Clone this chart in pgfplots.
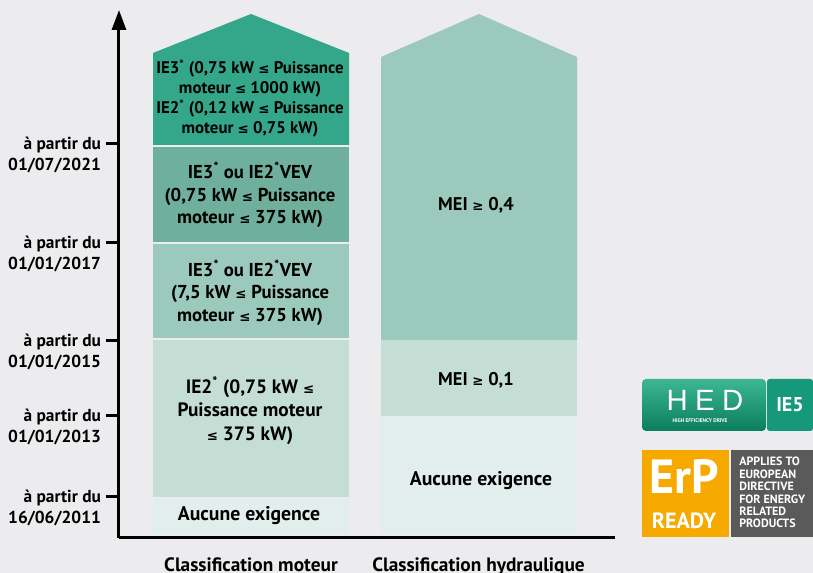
\documentclass[border=0pt]{standalone}
\usepackage{pgfplots}
\pgfplotsset{compat=1.18}
\usetikzlibrary{arrows.meta}
\usepackage{fontspec}
\setmainfont{PT Sans}
\newfontfamily\sym{DejaVu Sans}
\newfontfamily\thinf{Liberation Sans}
\newcommand\LE{\mbox{\sym\bfseries\fontsize{10pt}{10pt}\selectfont ≤}}
\newcommand\GE{\mbox{\sym\bfseries\fontsize{10pt}{10pt}\selectfont ≥}}
\newcommand\st{\textsuperscript{*}}
\definecolor{bg}{HTML}{ECECEE}
\definecolor{c1}{HTML}{34A689}
\definecolor{c2}{HTML}{6FB09D}
\definecolor{c3}{HTML}{9BC9BB}
\definecolor{c4}{HTML}{C4DED5}
\definecolor{c5}{HTML}{E2EEEC}
\definecolor{hedtop}{HTML}{3DB793}
\definecolor{hedbot}{HTML}{0A7D5E}
\definecolor{ie5}{HTML}{16987A}
\definecolor{erp}{HTML}{F6AA00}
\definecolor{erpgray}{HTML}{5A5A5A}
\begin{document}
\begin{tikzpicture}[font=\bfseries\fontsize{13pt}{16pt}\selectfont]
\useasboundingbox (0,0) rectangle (609.75pt,429.75pt);
\fill[bg] (0,0) rectangle (609.75pt,429.75pt);
\begin{axis}[
  at={(89.25pt,26.25pt)}, anchor=south west,
  x=0.75pt, y=0.75pt,
  xmin=119, xmax=615, ymin=0, ymax=528,
  axis lines=left,
  axis line style={line width=2.25pt, black},
  y axis line style={-{Triangle[width=10.5pt,length=15pt]}},
  x axis line style={-},
  clip=false,
  xtick={251,478.5},
  xticklabels={Classification moteur, Classification hydraulique},
  xtick style={draw=none},
  xticklabel style={yshift=-1pt, font=\bfseries\fontsize{14.5pt}{16pt}\selectfont},
  ytick={41,122,197,295,394},
  yticklabels={{à partir du\\16/06/2011},{à partir du\\01/01/2013},{à partir du\\01/01/2015},{à partir du\\01/01/2017},{à partir du\\01/07/2021}},
  yticklabel style={align=right, anchor=east, yshift=-8pt},
  ytick style={line width=2.25pt, black},
  major tick length=10pt,
  tick align=outside,
]
% Classification moteur
\addplot[fill=c1, draw=none, mark=none] coordinates {(153,393) (349,393) (349,485) (251,524) (153,485)} -- cycle;
\addplot[fill=c2, draw=none, mark=none] coordinates {(153,296) (349,296) (349,391) (153,391)} -- cycle;
\addplot[fill=c3, draw=none, mark=none] coordinates {(153,200) (349,200) (349,294) (153,294)} -- cycle;
\addplot[fill=c4, draw=none, mark=none] coordinates {(153,41) (349,41) (349,198) (153,198)} -- cycle;
\addplot[fill=c5, draw=none, mark=none] coordinates {(153,4) (349,4) (349,39) (153,39)} -- cycle;
% Classification hydraulique
\addplot[fill=c3, draw=none, mark=none] coordinates {(381,198) (577,198) (577,481) (479,524) (381,481)} -- cycle;
\addplot[fill=c4, draw=none, mark=none] coordinates {(381,122) (577,122) (577,198) (381,198)} -- cycle;
\addplot[fill=c5, draw=none, mark=none] coordinates {(381,4) (577,4) (577,122) (381,122)} -- cycle;
% texts
\node[align=center, font=\bfseries\fontsize{12.6pt}{15pt}\selectfont] at (axis cs:250,439.5)
  {IE3\st{} (0,75 kW \LE{} Puissance\\moteur \LE{} 1000 kW)\\IE2\st{} (0,12 kW \LE{} Puissance\\moteur \LE{} 0,75 kW)};
\node[align=center, font=\bfseries\fontsize{14pt}{17pt}\selectfont] at (axis cs:250,343)
  {IE3\st{} ou IE2\st{}VEV\\(0,75 kW \LE{} Puissance\\moteur \LE{} 375 kW)};
\node[align=center, font=\bfseries\fontsize{14pt}{17pt}\selectfont] at (axis cs:250,245.5)
  {IE3\st{} ou IE2\st{}VEV\\(7,5 kW \LE{} Puissance\\moteur \LE{} 375 kW)};
\node[align=center, font=\bfseries\fontsize{14.5pt}{17.5pt}\selectfont] at (axis cs:250,127.5)
  {IE2\st{} (0,75 kW \LE\\Puissance moteur\\\LE{} 375 kW)};
\node[font=\bfseries\fontsize{14.8pt}{16pt}\selectfont] at (axis cs:249,22) {Aucune exigence};
\node[font=\bfseries\fontsize{13.8pt}{16pt}\selectfont] at (axis cs:476,333) {MEI \GE{} 0,4};
\node[font=\bfseries\fontsize{13.8pt}{16pt}\selectfont] at (axis cs:476,158) {MEI \GE{} 0,1};
\node[font=\bfseries\fontsize{14.8pt}{16pt}\selectfont] at (axis cs:481,57) {Aucune exigence};
\end{axis}
% logos
\begin{scope}[x=0.75pt,y=-0.75pt,yshift=429.75pt]
\shade[top color=hedtop, bottom color=hedbot, rounded corners=3pt] (642,379) rectangle (766,431);
\fill[ie5, rounded corners=2pt] (767,379) rectangle (813,431);
\node[white, font=\bfseries\fontsize{15pt}{15pt}\selectfont] at (790,405) {IE5};
\node[white, font=\thinf\fontsize{22pt}{22pt}\selectfont\addfontfeature{LetterSpace=25}] at (705,400) {HED};
\node[white, font=\bfseries\fontsize{4pt}{4pt}\selectfont] at (700,421) {HIGH EFFICIENCY DRIVE};
\fill[erp] (642,450) rectangle (729,537);
\node[white, font=\bfseries\fontsize{36pt}{36pt}\selectfont] at (684,476) {ErP};
\node[white, font=\bfseries\fontsize{16.5pt}{16.5pt}\selectfont] at (684,521) {READY};
\fill[erpgray] (731,450) rectangle (813,537);
\node[white, align=left, anchor=north west, inner sep=0pt, font=\bfseries\fontsize{9pt}{9.3pt}\selectfont] at (739,457) {APPLIES TO\\EUROPEAN\\DIRECTIVE\\FOR ENERGY\\RELATED\\PRODUCTS};
\end{scope}
\end{tikzpicture}
\end{document}
